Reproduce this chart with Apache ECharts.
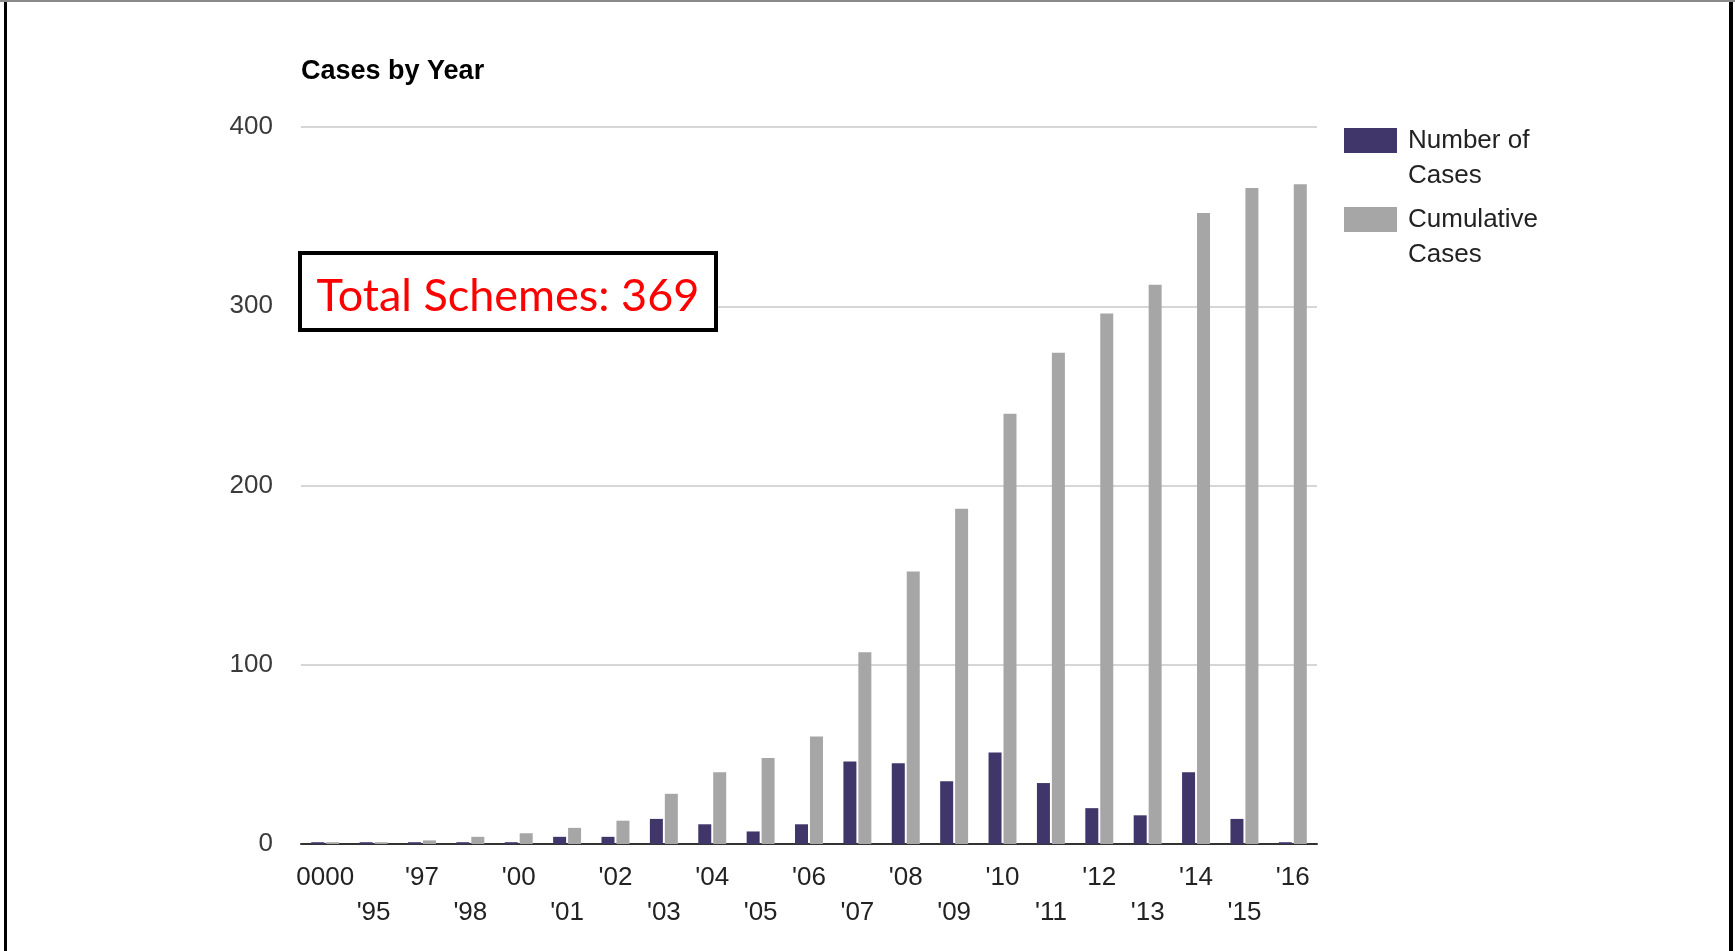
<!DOCTYPE html>
<html>
<head>
<meta charset="utf-8">
<title>Cases by Year</title>
<script src="https://cdn.jsdelivr.net/npm/echarts@6/dist/echarts.min.js"></script>
<style>
  html, body { margin: 0; padding: 0; background: #fff; }
  #main { width: 1735px; height: 951px; }
  .edge { position: absolute; background: #000; }
</style>
</head>
<body>
<div id="main"></div>
<div class="edge" style="left:4px; top:0; width:3px; height:951px;"></div>
<div class="edge" style="left:1729px; top:0; width:4px; height:951px;"></div>
<div class="edge" style="left:0; top:0; width:1735px; height:2px; background:#8a8a8a;"></div>
<script>
// years on the x axis (the first label really reads "0000")
const years = ["0000", "'95", "'97", "'98", "'00", "'01", "'02", "'03", "'04", "'05", "'06",
  "'07", "'08", "'09", "'10", "'11", "'12", "'13", "'14", "'15", "'16"];
const numberOfCases = [1, 1, 1, 1, 1, 4, 4, 14, 11, 7, 11, 46, 45, 35, 51, 34, 20, 16, 40, 14, 1];
const cumulativeCases = [1, 1, 2, 4, 6, 9, 13, 28, 40, 48, 60, 107, 152, 187, 240, 274, 296, 312, 352, 366, 368];
const yTicks = [0, 100, 200, 300, 400];
const seriesNames = ["Number of Cases", "Cumulative Cases"];
const legendLabels = { "Number of Cases": "Number of\nCases", "Cumulative Cases": "Cumulative\nCases" };
const totalText = "Total Schemes: 369";

var myChart = echarts.init(document.getElementById("main"));

// swatch sits on the first of the two legend lines: the empty tail of the path
// makes the icon box taller than the coloured rect
const swatch = "path://M0,0H53V25H0Z M0,60L0,60";

const option = {
  animation: false,
  textStyle: { fontFamily: "Liberation Sans, Arial, sans-serif" },
  title: {
    text: "Cases by Year",
    left: 301,
    top: 58,
    padding: 0,
    textStyle: { fontSize: 27, fontWeight: "bold", color: "#000" },
  },
  legend: {
    orient: "vertical",
    left: 1344,
    top: 123,
    padding: 0,
    itemGap: 9,
    itemWidth: 53,
    itemHeight: 60,
    data: seriesNames.map((n) => ({ name: n, icon: swatch })),
    formatter: (name) => legendLabels[name],
    textStyle: { fontSize: 26, lineHeight: 35, color: "#222", padding: [0, 0, 0, 6] },
  },
  grid: { left: 301, right: 418, top: 127, bottom: 107 },
  xAxis: {
    type: "category",
    data: years,
    axisTick: { show: false },
    axisLine: { lineStyle: { color: "#333", width: 2 } },
    axisLabel: {
      interval: 0,
      fontSize: 26,
      lineHeight: 35,
      margin: 16,
      color: "#222",
      formatter: (v, i) => (i % 2 ? "\n" + v : v),
    },
  },
  yAxis: {
    type: "value",
    min: yTicks[0],
    max: yTicks[yTicks.length - 1],
    interval: 100,
    axisLine: { show: false },
    axisTick: { show: false },
    axisLabel: { fontSize: 26, color: "#3a3a3a", margin: 28, padding: [4, 0, 0, 0] },
    splitLine: { lineStyle: { color: "#d6d6d6", width: 2 } },
  },
  series: [
    {
      name: seriesNames[0],
      type: "bar",
      data: numberOfCases,
      barWidth: 13,
      barGap: "15%",
      itemStyle: { color: "#41366a" },
    },
    {
      name: seriesNames[1],
      type: "bar",
      data: cumulativeCases,
      barWidth: 13,
      itemStyle: { color: "#a6a6a6" },
    },
  ],
  graphic: [
    {
      type: "group",
      left: 298,
      top: 251,
      z: 100,
      children: [
        {
          type: "rect",
          z: 100,
          shape: { x: 0, y: 0, width: 416, height: 77 },
          style: { fill: "#fff", stroke: "#000", lineWidth: 4 },
        },
        {
          type: "text",
          z: 101,
          x: 208,
          y: 43,
          style: {
            text: totalText,
            fill: "#ff0000",
            font: "45px Lato, sans-serif",
            align: "center",
            verticalAlign: "middle",
          },
        },
      ],
    },
  ],
};

option && myChart.setOption(option);
</script>
</body>
</html>
